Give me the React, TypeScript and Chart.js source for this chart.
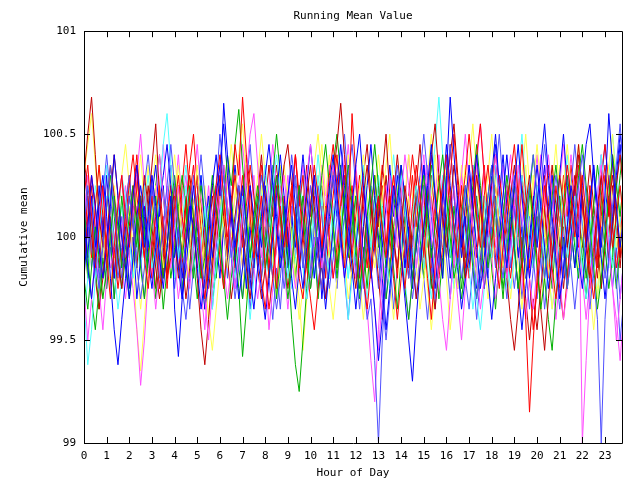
import { useEffect, useRef } from "react";
import { Chart, registerables } from "chart.js";

Chart.register(...registerables);

// Sampling: 6 samples per hour (every 10 minutes), hours 0 .. 23.83
const samplesPerHour = 6;
const hourTicks = [0, 1, 2, 3, 4, 5, 6, 7, 8, 9, 10, 11, 12, 13, 14, 15, 16, 17, 18, 19, 20, 21, 22, 23];
const yTicks = [99, 99.5, 100, 100.5, 101];
const baseline = 100;

// Each series: deviation from 100, in hundredths
const blue1 = [
  10, -15, -30, -10, 15, 30, 10, -20, -45, -62, -40, -20, 0, 20, 35, 15, -5, 10,
  30, 15, -10, -25, -5, 20, -35, -58, -30, -5, 15, 5, -15, -35, -20, 5, 25, 40,
  20, 65, 40, 15, -5, 10, 25, 5, -20, -35, -15, 10, 30, 45, 25, 5, -15, 0,
  20, 35, 15, -10, -25, -5, 15, 30, 10, -10, 5, 25, 40, 20, 0, -20, -5, 15,
  35, 50, 25, 5, -15, -35, -60, -40, -15, 5, 25, 10, -10, -30, -50, -70, -40, -15,
  5, 25, 45, 20, 0, -20, 30, 68, 40, 15, -5, 15, 35, 15, -5, -25, -10, 10,
  30, 50, 25, 5, -15, 5, 25, 45, 20, 0, -20, -5, 15, 35, 55, 30, 10, -10,
  -30, -15, 5, 25, 10, -10, -25, -5, 15, 35, 15, -5, 20, 60, 35, 15, -5, 10,
];
const lightBlue1 = [
  5, 25, 10, -10, -25, -5, 15, 35, 15, -5, -20, 0, 20, 5, -15, -30, -15, 5,
  25, 10, -10, 5, 25, 45, 25, 5, -15, -5, 15, 30, 10, -10, -25, -10, 10, 25,
  50, 30, 10, -10, 5, 25, 15, -5, -25, -10, 10, 30, 15, -5, -20, -35, -20, 0,
  20, 40, 25, 5, -15, 5, 25, 10, -10, -25, -5, 15, 30, 15, -5, 10, 30, 45,
  25, 5, -20, -40, -30, -60, -100, -50, -20, 5, 20, 35, 15, -5, -20, -5, 15, 30,
  50, 30, 10, -10, 5, 25, 40, 20, 0, -15, 5, 25, 10, -10, -30, -15, 5, 20,
  35, 15, -5, -20, 0, 15, 30, 10, -10, 5, 25, 40, 20, 0, -20, -5, 15, 30,
  15, -5, -25, -10, 10, 25, 40, 20, 0, -20, -40, -100, -40, -10, 15, 35, 55, 30,
];
const red1 = [
  20, 35, 10, -15, 5, 25, -10, -30, -5, 15, 30, 10, -5, 20, 40, 15, -10, -25,
  -5, 10, 25, 5, -20, -10, 15, 30, 10, -5, 20, 35, 10, -15, -30, -10, 5, 25,
  40, 20, 0, 15, 45, 30, 68, 40, 10, -10, 5, 20, -15, -35, -20, 0, 15, -5,
  10, 25, 5, -20, -30, -10, 15, 35, 20, -5, 10, 30, 45, 25, 5, -15, 10, 60,
  30, 5, -20, -35, -15, 10, 20, 5, -10, 15, 30, 10, -10, -25, -5, 15, 35, 20,
  0, -20, -40, -15, 10, 25, 40, 20, 5, -10, 15, 30, 50, 30, 10, -5, 20, 35,
  15, -10, -25, -5, 15, 30, 45, 20, -10, -40, -85, -50, -20, 5, 25, 10, -15, -30,
  -10, 15, 35, 20, 0, 15, 30, 10, -15, -30, -10, 20, 35, 15, -5, 10, 25, 5,
];
const darkRed1 = [
  30, 50, 68, 40, 10, -5, 15, 35, 20, -10, -25, 0, 20, 5, -15, 10, 30, 15,
  35, 55, 20, -5, -20, 5, 25, 10, -10, -30, -15, 10, -20, -45, -62, -40, -15, 5,
  20, 35, 15, -5, 10, 25, 5, -15, -30, -10, 15, 30, 20, 0, -20, -5, 15, 35,
  45, 25, 5, -15, 0, 20, 35, 15, -10, -25, -5, 15, 30, 45, 65, 40, 15, -10,
  -25, -5, 20, 35, 15, -5, 10, 30, 50, 20, 0, -15, 5, 25, 10, -10, -30, -15,
  5, 20, 40, 55, 30, 10, -5, 15, 35, 20, 0, -20, -10, 10, 30, 15, -5, 10,
  25, 40, 20, 0, -20, -40, -55, -35, -10, 15, 30, 10, -10, -35, -55, -30, -10, 10,
  30, 15, -5, 10, 25, 45, 20, 0, -20, -5, 15, 30, 10, -10, 5, 25, 40, 20,
];
const green1 = [
  -20, -35, -15, 5, -10, -30, -15, 0, 20, 5, -15, -5, 10, 25, 5, -15, -30, -10,
  5, 20, 0, -20, -5, 15, 30, 10, -10, 5, 25, 10, -5, -20, -10, 10, 30, 15,
  0, 20, 40, 25, 45, 62, 35, 10, -10, 5, 20, 5, -15, -5, 15, 30, 10, -10,
  -30, -15, 5, 25, 10, -10, -25, -10, 10, 30, 45, 25, 5, -15, 0, 20, 35, 15,
  -5, -25, -10, 10, 25, 45, 25, 5, -15, 0, 20, 10, -10, -25, -40, -20, 0, 15,
  30, 10, -10, 5, 25, 40, 20, 0, -20, -10, 10, 25, 5, -15, -30, -15, 5, 20,
  35, 15, -5, 10, 30, 15, -5, -25, -10, 10, 25, 5, -15, -35, -20, 0, 20, 35,
  15, -5, -25, -10, 10, 30, 45, 25, 5, -15, -35, -20, 0, 20, 40, 25, 10, 30,
];
const magenta1 = [
  -25, -50, -30, -10, 10, 25, 5, -15, -5, 15, 30, 10, -10, -25, -45, -72, -50, -20,
  5, 20, 40, 20, 0, -15, 5, 25, 10, -10, -25, -5, 15, -5, -30, -50, -25, 0,
  20, 35, 15, -5, -25, -10, 10, 30, 50, 60, 35, 10, -15, -45, -25, -5, 15, 30,
  10, -10, -25, -10, 10, 30, 45, 25, 5, -15, 0, 20, 35, 15, -5, -20, -5, 15,
  30, 10, -15, -35, -60, -80, -45, -15, 10, 30, 15, -5, 20, 40, 25, 5, -15, 0,
  20, 35, 15, -5, -20, -40, -55, -30, -10, 10, 30, 50, 25, 5, -15, -35, -20, 0,
  20, 40, 20, 0, -20, -5, 15, 35, 20, 0, -20, -35, -15, 5, 25, 40, 20, 0,
  -20, -40, -25, -5, 15, 30, -100, -60, -25, 0, 20, 35, 15, -5, -25, -50, -30, -10,
];
const cyan1 = [
  -30, -62, -45, -20, 0, 20, 35, 15, -5, 10, 30, 20, 0, -20, -10, 10, 25, 5,
  -15, -5, 20, 45, 60, 35, 10, -10, 5, 25, 10, -10, -20, -5, 15, -10, -30, -15,
  5, 25, 15, -5, -20, 0, 20, 5, -15, 0, 20, 10, -10, 5, 25, 40, 20, 0,
  -20, -5, 15, 5, -15, -30, -10, 10, 30, 15, -5, -20, 0, 20, 5, -15, -40, -20,
  0, 20, 35, 15, -5, 10, 25, 10, -10, -25, -5, 15, 30, 15, -5, 10, 25, 5,
  -15, 5, 25, 45, 68, 40, 15, -5, -20, -5, 15, 0, -15, -35, -20, 0, 20, 5,
  -10, 10, 25, 10, -10, -25, -10, 10, 30, 15, -5, 10, 25, 10, -10, -25, -5, 15,
  30, 10, -10, 5, 20, 5, -15, -30, -15, 5, 20, 40, 20, 0, -15, 5, 25, 10,
];
const yellow1 = [
  30, 45, 60, 35, 10, -10, 15, 35, 20, 0, -20, -5, 15, -10, -45, -65, -40, -15,
  10, 25, 5, -15, 0, 20, 40, 20, 0, -20, -5, 15, 35, 10, -15, -40, -20, 0,
  20, 5, -15, 0, 20, 40, 55, 30, 10, -10, 5, 25, 15, -5, -20, -5, 15, 35,
  20, 0, -20, -40, -25, -5, 15, 35, 50, 30, 10, -10, 5, 25, 10, -10, -30, -15,
  5, 25, 40, 20, 0, -15, 0, 20, 35, 50, 25, 5, -15, 0, 20, 5, -15, -35,
  -20, 0, 20, 40, 20, 0, -20, -45, -25, -5, 15, 35, 15, -5, -20, -5, 15, 30,
  50, 25, 5, -15, 0, 20, 5, -15, -35, -15, 5, 25, 45, 25, 5, -15, -35, -15,
  5, 25, 45, 25, 5, -15, 0, 20, 5, -15, -30, -10, 15, 35, 50, 25, 5, -15,
];
const blue2 = [
  -20, 5, 30, 15, -5, -20, -5, 15, 40, 20, 0, -15, -30, -10, 10, 25, 10, -10,
  -25, -5, 15, 30, 45, 25, 5, -15, -30, -15, 5, 25, 5, -15, -35, -20, 0, 20,
  35, 55, 30, 10, -10, -30, -15, 5, 25, 10, -10, -25, -40, -20, 0, 20, 40, 20,
  0, -20, -35, -15, 5, 25, 45, 25, 5, -15, -35, -15, 5, 25, 45, 25, 5, -15,
  -35, -15, 5, 25, 45, 20, 0, -20, -45, -25, -5, 15, 35, 20, 0, -20, -5, 15,
  35, 15, -5, -25, -5, 20, 45, 25, 5, -15, -35, -20, 0, 20, 40, 20, 0, -20,
  -40, -20, 0, 20, 40, 20, -5, -25, -45, -25, -5, 15, 35, 15, -5, -25, -10, 10,
  30, 50, 25, 5, -15, 5, 25, 45, 55, 30, 10, -10, -30, -10, 10, 30, 50, 35,
];
const lightBlue2 = [
  35, 15, -5, -20, 0, 20, 40, 20, 0, -20, -5, 15, 30, 10, -10, 5, 25, 40,
  20, 0, -20, -5, 15, 35, 15, -5, -25, -40, -20, 0, 20, 40, 20, 0, -20, -5,
  15, 30, 10, -10, -30, -15, 5, 25, 45, 20, 0, -20, -5, 15, 35, 15, -5, -25,
  -10, 10, 30, 10, -10, -30, -15, 5, 25, 10, -10, -25, -10, 10, 30, 50, 25, 5,
  -15, -35, -15, 5, 25, 10, -10, -30, -50, -30, -10, 10, 30, 10, -10, -30, -15, 5,
  25, 10, -10, -30, -15, 5, 25, 45, 20, 0, -20, -5, 15, 35, 15, -5, -25, -10,
  10, 30, 50, 25, 5, -15, 0, 20, 5, -15, -35, -15, 5, 25, 45, 25, 5, -15,
  -35, -15, 5, 25, 45, 25, 5, -15, -35, -15, 5, 25, 45, 25, 5, -20, -50, -30,
];
const red2 = [
  -15, 10, 30, 15, -5, -20, 0, 15, -5, -25, -10, 10, 25, 40, 20, 5, -10, 5,
  20, -5, -25, -10, 10, 25, 5, -15, -5, 15, 35, 50, 25, 5, -10, 10, 25, 10,
  -10, -25, -5, 15, 30, 15, -5, 15, 35, 20, 0, -20, -35, -15, 5, 25, 10, -10,
  5, 20, 40, 20, 0, -15, -30, -45, -25, -5, 15, 0, -20, -5, 15, 30, 10, -10,
  10, 30, 15, -5, -20, -5, 15, 35, 20, 0, -20, -40, -20, 0, 20, 40, 25, 5,
  -15, 5, 20, 0, -20, -5, 10, 30, 50, 25, 5, -15, 0, 20, 40, 55, 30, 10,
  -10, 10, 30, 15, -5, -20, 0, 20, 45, 20, -20, -45, -25, -5, 15, 35, 20, 0,
  -25, -40, -20, 0, 20, 35, 15, -5, -25, -10, 10, 30, 45, 25, 5, -15, 0, 20,
];
const darkRed2 = [
  40, 20, 0, -20, -35, -20, 0, 20, 40, 20, 0, -15, 5, 25, 10, -10, 5, 25,
  5, -15, -30, -15, 5, 20, 0, -20, -5, 15, 30, 15, 30, 15, -5, -25, -10, 10,
  30, 10, -10, -30, -15, 5, 20, 40, 25, 5, -15, -30, -15, 5, 20, 35, 15, -5,
  -25, -10, 10, 25, 5, -15, 5, 20, 5, -15, -30, -15, 5, 20, 35, 15, -5, -20,
  0, 15, 30, 45, 20, 0, -20, -40, -20, 0, 20, 40, 20, 0, -15, 5, 25, 45,
  20, 0, -20, -35, -15, 5, 25, 40, 55, 30, 10, -10, 15, 30, 10, -10, -25, -10,
  10, 25, 5, -15, 5, 20, 35, 15, -10, -30, -50, -30, -45, -25, -5, 15, 35, 15,
  -5, -25, -5, 15, 30, 10, -5, 15, 35, 15, -5, -25, -5, 15, 30, 10, -10, 5,
];
const green2 = [
  15, -10, -30, -45, -25, -5, 15, 30, 10, -10, -25, -10, -30, -15, 5, 20, 5, -15,
  10, 25, 40, 20, 0, -20, -5, 15, 30, 15, -5, -20, 10, 25, 10, -10, -30, -15,
  0, -20, -40, -20, -5, -25, -58, -35, -10, 10, 25, 10, -5, 10, 30, 50, 30, 10,
  -10, -40, -62, -75, -50, -25, 5, 25, 10, -10, 5, 20, 35, 50, 30, 10, -10, 5,
  20, 0, -20, -5, 15, 30, 10, -10, -30, -15, 5, 20, 35, 15, -5, -20, -5, 15,
  0, 15, 35, 20, 0, -20, 5, 20, 5, -15, -30, -15, 10, 25, 45, 25, 5, -15,
  0, 15, -5, -25, -10, 10, 25, 5, -15, 0, 20, 40, 20, 0, -20, -40, -55, -30,
  -10, 10, 30, 15, -5, -20, 0, -20, -5, 15, 35, 20, -5, -25, -10, 10, 30, 45,
];
const magenta2 = [
  10, 30, 15, -5, -25, -45, -20, 0, 20, 5, -15, -30, -10, 10, 30, 50, 25, 5,
  -15, -35, -15, 5, 25, 10, -10, -30, -15, 5, 25, 10, -10, -25, -45, -20, 0, 20,
  5, -15, -30, -15, 5, 25, 45, 25, 5, -15, -30, -15, 5, 25, 45, 25, 5, -15,
  -35, -15, 5, 25, 10, -10, -25, -5, 15, 35, 15, -5, -20, 0, 20, 40, 20, 0,
  -20, 0, 20, 5, -15, -35, -55, -30, -10, 10, 30, 15, -5, -25, -40, -20, 0, 20,
  40, 20, 0, -20, -5, 15, 30, 10, -10, -30, -50, -25, -5, 15, 35, 55, 30, 10,
  -10, -30, -15, 5, 25, 40, 20, 0, -20, -40, -20, 0, 20, 40, 20, 0, -20, -40,
  -20, 0, 20, 40, 20, 0, -20, -40, -20, 0, 20, 40, 15, -5, -25, -40, -60, -35,
];
const cyan2 = [
  -40, -20, 5, 25, 10, -10, 20, 5, -15, -35, -20, 0, 25, 10, -15, -5, 15, 30,
  10, -10, -25, -10, 15, 5, -20, -5, 20, 35, 15, -5, 15, 30, 10, -15, -35, -15,
  10, 30, 15, -5, 10, 25, 5, -20, -40, -20, 5, 20, 35, 15, -5, 15, 30, 10,
  -5, -25, -10, 10, 30, 15, -5, 20, 40, 20, 0, -20, 10, 30, 15, -5, -20, 0,
  20, 5, -15, -30, -10, 15, 30, 15, -5, 20, 40, 20, 0, -20, -40, -20, 0, 20,
  5, -15, -30, -10, 10, 30, 15, -5, -25, -10, 10, 25, 10, -10, -30, -45, -25, -5,
  15, 35, 15, -5, -25, -10, 10, 30, 50, 25, 5, -15, 0, 20, 5, -15, -35, -20,
  0, 20, 40, 20, 0, -20, 5, 25, 10, -10, -30, -10, 10, 30, 50, 30, 10, -10,
];
const yellow2 = [
  0, -20, -5, 15, 35, 15, -5, -25, -10, 10, 30, 45, 25, 5, -15, -35, -15, 5,
  25, 40, 20, 0, -20, -5, 15, 35, 15, -5, -20, 0, 20, 0, -20, -40, -55, -35,
  -15, 5, 25, 45, 25, 5, -15, -30, -10, 10, 30, 50, 30, 10, -10, -30, -15, 5,
  25, 5, -15, -30, -55, -30, -10, 10, 30, 15, -5, -25, -40, -20, 0, 20, 40, 20,
  0, -20, -40, -20, 0, 20, 40, 20, 0, -20, -40, -20, 0, 20, 40, 20, 0, -20,
  -5, -25, -45, -25, -5, 15, 35, 15, -5, -25, -5, 15, 35, 55, 30, 10, -10, -30,
  -15, 5, 25, 10, -10, -30, -10, 10, 30, 50, 25, 5, -15, -35, -15, 5, 25, 45,
  20, 0, -20, -5, 15, 35, 15, -5, -25, -45, -25, -5, 15, 35, 15, -5, 10, 30,
];
const blue3 = [
  15, -10, 20, -5, 25, 0, 30, 5, -20, 10, -15, 5, -25, 0, -30, -10, 15, -5,
  20, 35, 10, 25, -5, 15, -10, 5, -20, 0, 20, -5, 10, 30, 5, 20, -10, 0,
  -20, 5, -15, 15, 35, 15, 0, -25, 5, -15, 10, -5, 25, 5, 30, 10, -10, 15,
  -15, 10, -5, 20, 40, 20, 5, -20, 0, -30, -10, 10, 30, 10, 35, 15, -5, 20,
  -5, 15, -10, 10, -20, 0, 20, -5, 15, 35, 10, 30, 10, -15, 5, -25, -5, 15,
  35, 15, 40, 20, 0, 25, 5, -20, 0, 20, -10, 10, -15, 5, -25, -5, 20, 0,
  25, 45, 20, 40, 15, -5, 15, -10, 5, -20, 0, 20, -5, 15, 35, 10, 30, 5,
  -20, 0, -25, 5, 25, 0, 20, -5, 15, 35, 10, -10, 10, 30, 5, 25, 45, 20,
];
const red3 = [
  -5, 20, -10, 15, 35, 10, -15, 10, -20, 5, -10, 15, 30, 10, 35, 5, 25, -5,
  -20, 5, -15, 10, -25, 0, 20, -5, 25, 45, 20, 0, 15, -10, 10, -20, 5, 25,
  0, 20, -5, 15, -15, 10, 30, 5, 25, -5, 15, 35, 10, -15, 5, -25, 0, 20,
  -5, 20, 40, 15, 30, 5, -15, 10, -10, 15, -20, 5, 20, 40, 15, 35, 10, 25,
  0, -20, 5, -15, 10, 30, 5, 25, -5, 20, 0, -20, 15, -10, 10, 30, 5, 25,
  -10, 15, -15, 10, 30, 5, 20, 45, 20, 0, 25, 5, -20, 5, -10, 15, 35, 10,
  -5, 20, -15, 10, -20, 0, 25, 5, 30, 10, -15, 5, 20, -5, 15, -20, 0, 25,
  5, 30, 10, 35, 15, -5, 20, 0, 25, 5, -15, 10, 30, 10, 40, 15, -10, 15,
];
const green3 = [
  5, -20, 10, -15, -35, -10, -25, 0, -30, -5, 20, 0, -10, 15, -5, 20, 0, -20,
  -5, -30, -10, -35, -15, 5, -20, 0, -25, -5, 15, -10, -30, -10, -35, -15, 5, -20,
  0, -25, -5, 20, 0, -15, -30, -10, 10, -15, 5, -20, 5, -20, 0, -30, -10, 10,
  -15, 5, -20, 0, 20, -5, -25, -5, -30, -10, 10, -10, 5, -20, 0, 20, -5, 15,
  -10, -30, -5, -25, 0, 20, -5, 15, -10, 10, -15, -35, -10, 10, -15, 5, 25, 0,
  -20, 0, -25, -5, -30, -10, 10, -10, 15, -5, -25, -5, 15, -5, 20, 0, -20, 5,
  -15, -35, -10, -30, -5, 15, -5, -25, 0, -20, 5, -15, 10, -10, 15, -5, -25, 0,
  20, 0, -20, 5, -15, 10, -10, -30, -5, 15, -5, -25, 0, 20, -5, -25, -5, 15,
];
const magenta3 = [
  25, 5, 30, 10, -10, 15, 35, 15, -5, 20, 0, 25, 10, -10, 15, -5, 20, 0,
  30, 5, 25, 45, 20, 5, 20, 40, 15, 30, 5, 25, 45, 20, 5, 25, 0, 15,
  35, 10, 30, 5, 20, 40, 15, 35, 10, 30, 5, -10, 15, -5, 20, 0, 25, 10,
  30, 10, 40, 15, 35, 10, 25, 5, 20, -5, 15, 35, 10, 30, 5, 25, 45, 20,
  35, 15, 30, 10, -10, 5, 20, 0, 25, 5, 30, 15, 35, 15, 40, 20, 0, 20,
  5, 25, 0, 20, 40, 15, 30, 10, 25, 5, 30, 15, 35, 15, 35, 10, 30, 5,
  20, -5, 15, 35, 15, 30, 10, 30, 5, 25, 0, 20, 40, 15, 35, 10, 25, 5,
  25, 45, 20, 0, 25, 10, 30, 5, 25, 0, 20, 40, 15, 35, 10, 30, 5, 25,
];
const cyan3 = [
  0, 20, -5, 15, -10, 10, -15, 5, -20, 0, 15, -5, 10, -10, 5, -15, 0, 20,
  -5, 15, -10, 10, -20, 0, 15, -5, 20, 0, -15, 5, -10, 10, -5, 15, -10, 5,
  20, 0, 15, -5, 10, -10, 5, -15, 10, -10, 15, -5, -20, 0, -15, 5, -10, 10,
  15, -5, 10, -15, 5, 25, 0, -20, 5, -15, 10, -5, 15, -5, 20, 0, -20, 0,
  10, -10, 15, -5, 20, 0, -15, 5, -10, 10, -5, 15, 0, -20, 5, -15, 10, -10,
  15, -5, 20, 0, -15, 5, -10, 10, -5, 15, 0, -20, 5, -15, 10, -10, 15, -5,
  20, 0, 15, -5, 10, -15, 0, 20, -5, 15, -10, 10, -5, 15, -10, 10, -15, 5,
  10, -10, 15, -5, 20, 0, -15, 5, -10, 10, -5, 15, 5, -15, 10, -10, 15, -5,
];
const yellow3 = [
  10, 30, 5, -15, 10, -10, 20, 0, 25, 5, -20, 0, 15, -5, 20, 40, 15, 35,
  5, -15, 10, -10, 15, 30, -5, 15, -15, 10, 30, 5, 20, 0, 25, 5, -15, 10,
  -10, 15, 35, 10, 30, 5, 20, -5, 15, -10, 10, 25, 0, 20, -5, 15, 35, 10,
  25, 5, 30, 10, -10, 10, 20, 0, 25, 45, 20, 40, 10, -10, 15, -5, 20, 0,
  30, 10, 35, 15, -5, 15, -10, 15, -5, 20, 0, 25, 5, -20, 5, -15, 10, 30,
  10, 30, 50, 25, 5, 20, 0, 20, -5, 15, 35, 10, 25, 5, 30, 10, -10, 15,
  35, 10, 30, 5, 25, 0, 20, -5, 15, 35, 10, 30, 5, 25, 0, 20, -5, 15,
  35, 10, 30, 5, 25, 45, 20, 0, 25, 5, -15, 10, 30, 10, 35, 15, -5, 20,
];
const lightBlue3 = [
  -10, 10, -15, 5, -20, 0, -25, -5, -30, -10, 10, -10, 5, -15, 10, -10, -30, -5,
  -20, 0, -25, -5, 15, -5, -25, -5, -30, -10, -35, -15, 0, -20, 5, -15, -35, -10,
  -15, 5, -20, 0, -25, -5, -30, -10, -35, -15, 5, -15, 0, -20, -40, -15, -35, -10,
  -5, 15, -10, 10, -15, 5, -20, 0, -25, -5, -30, -10, -5, -25, 0, -20, -40, -15,
  -20, 0, -25, -5, 15, -5, -25, -5, -30, -10, -35, -15, 5, -15, 10, -10, -30, -5,
  -20, -40, -15, -35, -10, 10, -10, -30, -5, -25, 0, -20, -35, -15, -40, -20, 0, -20,
  5, -15, 10, -10, -30, -10, -25, -5, -30, -10, 10, -10, -30, -10, -35, -15, 5, -15,
  0, -20, 5, -15, -35, -15, -5, 15, -10, 10, -15, 5, -20, 0, -25, -5, -30, -10,
];
const darkRed3 = [
  20, 0, 25, 5, -15, 10, -5, 15, -10, 10, 30, 5, 25, 5, 30, 10, -10, 15,
  -5, -25, 0, -20, 5, 25, 5, 25, 0, 20, -5, 15, -15, 5, -20, 0, 20, 0,
  25, 5, 30, 10, -10, 10, -15, 5, -20, 0, 20, 40, 15, 35, 10, 30, 5, -15,
  5, -15, 10, -10, 15, 35, 10, 30, 5, 25, 0, -20, 5, -15, 10, -10, 15, -5,
  20, 0, 25, 5, -15, 5, 25, 5, 30, 10, -10, 10, -15, 5, -20, 0, 20, 0,
  25, 5, 30, 10, -10, 15, -10, 10, -15, 5, 25, 5, 30, 10, 35, 15, -5, 15,
  -10, 10, -15, 5, 25, 0, 20, 0, 25, 5, -15, 5, 25, 5, 30, 10, -10, 10,
  -15, 5, -20, 0, 20, 40, 15, -5, 20, 0, -20, 0, 20, 0, 25, 5, -15, 10,
];

const seriesList = [
  { values: blue1, color: "#0000ff" },
  { values: red1, color: "#ff0000" },
  { values: lightBlue1, color: "#5050ff" },
  { values: green1, color: "#00b000" },
  { values: magenta1, color: "#ff50ff" },
  { values: darkRed1, color: "#c00000" },
  { values: blue2, color: "#0000ff" },
  { values: cyan1, color: "#50ffff" },
  { values: yellow1, color: "#ffff50" },
  { values: red2, color: "#ff0000" },
  { values: green2, color: "#00b000" },
  { values: lightBlue2, color: "#5050ff" },
  { values: blue3, color: "#0000ff" },
  { values: magenta2, color: "#ff50ff" },
  { values: darkRed2, color: "#c00000" },
  { values: red3, color: "#ff0000" },
  { values: cyan2, color: "#50ffff" },
  { values: green3, color: "#00b000" },
  { values: yellow2, color: "#ffff50" },
  { values: magenta3, color: "#ff50ff" },
  { values: lightBlue3, color: "#5050ff" },
  { values: darkRed3, color: "#c00000" },
  { values: cyan3, color: "#50ffff" },
  { values: yellow3, color: "#ffff50" },
];

const FONT = "'DejaVu Sans Mono', monospace";

const frameTicks = {
  id: "frameTicks",
  afterDatasetsDraw(chart: any) {
    const { ctx, chartArea, scales } = chart;
    const { left, right, top, bottom } = chartArea;
    const tl = 6;
    ctx.save();
    ctx.strokeStyle = "#000";
    ctx.lineWidth = 1;
    ctx.beginPath();
    ctx.rect(Math.round(left) + 0.5, Math.round(top) + 0.5, Math.round(right - left), Math.round(bottom - top));
    for (const h of hourTicks) {
      const x = Math.round(scales.x.getPixelForValue(h)) + 0.5;
      ctx.moveTo(x, bottom);
      ctx.lineTo(x, bottom - tl);
      ctx.moveTo(x, top);
      ctx.lineTo(x, top + tl);
    }
    for (const v of yTicks) {
      const y = Math.round(scales.y.getPixelForValue(v)) + 0.5;
      ctx.moveTo(left, y);
      ctx.lineTo(left + tl, y);
      ctx.moveTo(right, y);
      ctx.lineTo(right - tl, y);
    }
    ctx.stroke();
    ctx.restore();
  },
};

export default function App() {
  const ref = useRef<HTMLCanvasElement>(null);
  useEffect(() => {
    document.body.style.margin = "0";
    const canvas = ref.current;
    if (!canvas) return;
    const chart = new Chart(canvas, {
      type: "line",
      data: {
        datasets: seriesList.map((s) => ({
          data: s.values.map((v, i) => ({ x: i / samplesPerHour, y: baseline + v / 100 })),
          borderColor: s.color,
          borderWidth: 1,
          pointRadius: 0,
          fill: false,
          tension: 0,
        })),
      },
      options: {
        animation: false,
        responsive: false,
        devicePixelRatio: 1,
        layout: { padding: { top: 0, right: 18, bottom: 0, left: 0 } },
        plugins: {
          legend: { display: false },
          tooltip: { enabled: false },
          title: {
            display: true,
            text: "Running Mean Value",
            fullSize: false,
            color: "#000",
            font: { family: FONT, size: 11, weight: "normal" },
            padding: { top: 10, bottom: 8 },
          },
        },
        scales: {
          x: {
            type: "linear",
            min: 0,
            max: 23.75,
            afterBuildTicks: (scale: any) => {
              scale.ticks = hourTicks.map((h) => ({ value: h }));
            },
            afterFit: (scale: any) => {
              scale.height = 37;
            },
            grid: { display: false, drawTicks: false },
            border: { display: false },
            ticks: {
              color: "#000",
              font: { family: FONT, size: 11 },
              padding: 7,
              maxRotation: 0,
              autoSkip: false,
            },
            title: {
              display: true,
              text: "Hour of Day",
              color: "#000",
              font: { family: FONT, size: 11 },
              padding: { top: 1, bottom: 0 },
            },
          },
          y: {
            type: "linear",
            min: 99,
            max: 101,
            afterBuildTicks: (scale: any) => {
              scale.ticks = yTicks.map((v) => ({ value: v }));
            },
            afterFit: (scale: any) => {
              scale.width = 84;
            },
            grid: { display: false, drawTicks: false },
            border: { display: false },
            ticks: {
              color: "#000",
              font: { family: FONT, size: 11 },
              padding: 8,
              callback: (v: any) => String(v),
            },
            title: {
              display: true,
              text: "Cumulative mean",
              color: "#000",
              font: { family: FONT, size: 11 },
              padding: { top: 18, bottom: 0 },
            },
          },
        },
      },
      plugins: [frameTicks],
    });
    return () => chart.destroy();
  }, []);
  return (
    <div style={{ width: 640, height: 480 }}>
      <canvas ref={ref} width={640} height={480} />
    </div>
  );
}
